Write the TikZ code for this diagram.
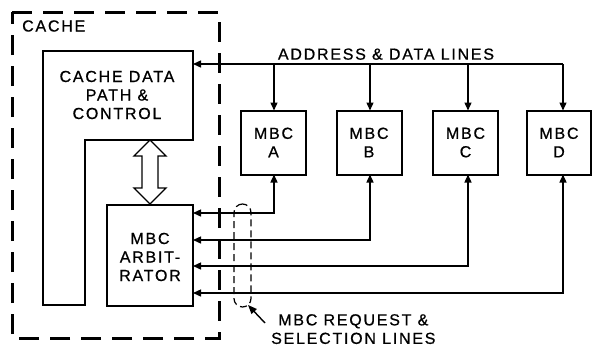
\documentclass[tikz,border=0pt]{standalone}
\usepackage{fontspec}
\setmainfont{Liberation Sans}[LetterSpace=11, FakeBold=0.8]
\usetikzlibrary{arrows.meta}
\tikzset{
  blk/.style={draw, line width=2pt, inner sep=0pt, align=center},
  lbl/.style={inner sep=0pt, align=center, font=\fontsize{16}{18.5}\selectfont},
  conn/.style={line width=1.4pt, -{Triangle[length=8pt,width=7pt]}},
  bconn/.style={line width=1.4pt, {Triangle[length=8pt,width=7pt]}-{Triangle[length=8pt,width=7pt]}},
}
\begin{document}
\begin{tikzpicture}[x=1pt,y=-1pt]
\useasboundingbox (0,0) rectangle (592,348);
% cache dashed border
\draw[line width=3pt, dash pattern=on 20pt off 11pt] (12,12) -- (219,12) -- (219,338) -- (12,338) -- cycle;
\node[lbl, anchor=west] (cachelbl) at (22,26) {CACHE};
% cache data path & control (L shape)
\draw[line width=2pt] (43,51) -- (193,51) -- (193,140) -- (85,140) -- (85,305) -- (43,305) -- cycle;
\coordinate (cdp) at (193,64);
\node[lbl] (cdptext) at (117,95) {CACHE DATA\\PATH \&\\CONTROL};
% arbitrator
\node[blk, minimum width=86pt, minimum height=101pt] (arb) at (150,255.5) {};
\node[lbl] (arbtext) at (150,257) {MBC\\ARBIT-\\RATOR};
% double arrow
\draw[line width=1.4pt, fill=white] (150,140) -- (166,156) -- (158,156) -- (158,188) -- (166,188) -- (150,204) -- (134,188) -- (142,188) -- (142,156) -- (134,156) -- cycle;
% MBC boxes
\node[blk, minimum width=65pt, minimum height=64pt] (A) at (273.5,142.5) {};
\node[blk, minimum width=65pt, minimum height=64pt] (B) at (369,142.5) {};
\node[blk, minimum width=65pt, minimum height=64pt] (C) at (465.5,142.5) {};
\node[blk, minimum width=64pt, minimum height=64pt] (D) at (559,142.5) {};
\node[lbl] (At) at (A) {MBC\\A};
\node[lbl] (Bt) at (B) {MBC\\B};
\node[lbl] (Ct) at (C) {MBC\\C};
\node[lbl] (Dt) at (D) {MBC\\D};
% address & data lines
\node[lbl, anchor=south] (adl) at (386,60) {ADDRESS \& DATA LINES};
\coordinate (ja) at (274,64);
\coordinate (jb) at (370,64);
\coordinate (jc) at (468,64);
\coordinate (jd) at (563,64);
\draw[conn] (jd) -- (cdp);
\draw[conn] (ja) -- (274,110.5);
\draw[conn] (jb) -- (370,110.5);
\draw[conn] (jc) -- (468,110.5);
\draw[conn] (jd) -- (563,110.5);
% request & selection lines
\draw[bconn] (193,213) -| (274,174.5);
\draw[bconn] (193,240) -| (370,174.5);
\draw[bconn] (193,266) -| (468,174.5);
\draw[bconn] (193,293) -| (563,174.5);
% dashed ellipse
\node[draw, line width=1.2pt, dash pattern=on 7pt off 4pt, rounded corners=8.5pt, minimum width=17pt, minimum height=103pt, inner sep=0pt] (ell) at (242.5,255.5) {};
\node[lbl, anchor=north west] (rsl) at (271,314) {MBC REQUEST \&\\SELECTION LINES};
\coordinate (rslp) at (265,323);
\draw[line width=1.4pt, -{Triangle[length=9pt,width=7pt]}] (rslp) -- (248,305);
\end{tikzpicture}
\end{document}
